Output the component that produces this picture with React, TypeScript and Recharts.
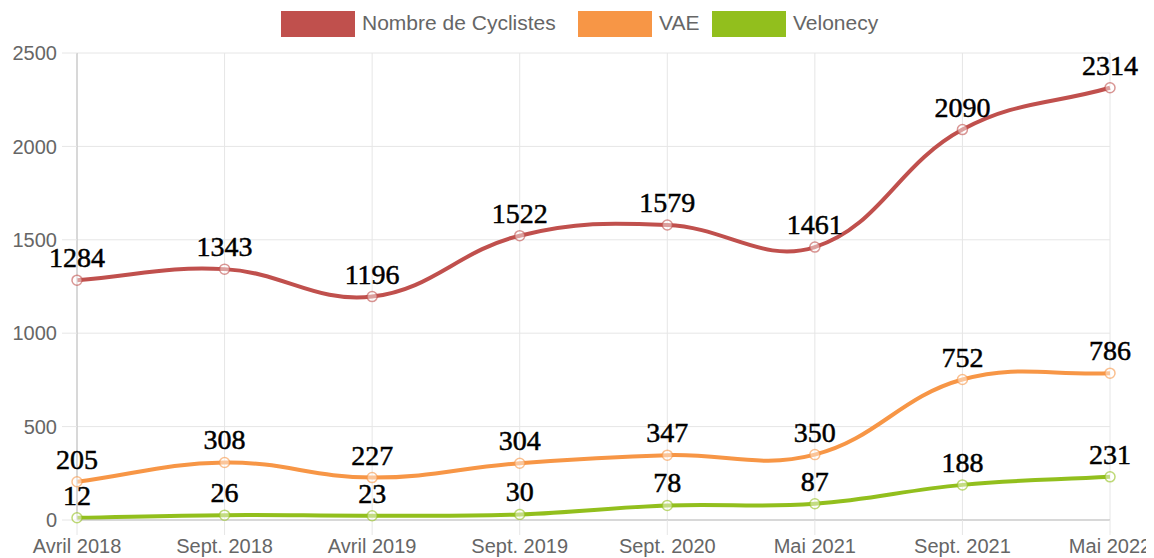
import React from "react";
import {
  LineChart,
  Line,
  XAxis,
  YAxis,
  CartesianGrid,
  LabelList,
} from "recharts";

const months = [
  "Avril 2018",
  "Sept. 2018",
  "Avril 2019",
  "Sept. 2019",
  "Sept. 2020",
  "Mai 2021",
  "Sept. 2021",
  "Mai 2022",
];
const cyclistes = [1284, 1343, 1196, 1522, 1579, 1461, 2090, 2314];
const vae = [205, 308, 227, 304, 347, 350, 752, 786];
const velonecy = [12, 26, 23, 30, 78, 87, 188, 231];
const yTicks = [0, 500, 1000, 1500, 2000, 2500];

const series = [
  { key: "cyclistes", name: "Nombre de Cyclistes", color: "#c0504d" },
  { key: "vae", name: "VAE", color: "#f79646" },
  { key: "velonecy", name: "Velonecy", color: "#92bf1d" },
];

const data = months.map((m, i) => ({
  month: m,
  cyclistes: cyclistes[i],
  vae: vae[i],
  velonecy: velonecy[i],
}));

// spline like the chart.js default (tension 0.4)
function splineCurve(context: any) {
  let pts: [number, number][] = [];
  return {
    areaStart() {},
    areaEnd() {},
    lineStart() {
      pts = [];
    },
    point(x: number, y: number) {
      pts.push([+x, +y]);
    },
    lineEnd() {
      const n = pts.length;
      if (!n) return;
      const t = 0.4;
      const cps = pts.map((p, i) => {
        const prev = pts[i - 1] || p;
        const next = pts[i + 1] || p;
        const d01 = Math.hypot(p[0] - prev[0], p[1] - prev[1]);
        const d12 = Math.hypot(next[0] - p[0], next[1] - p[1]);
        let s01 = d01 / (d01 + d12);
        let s12 = d12 / (d01 + d12);
        if (isNaN(s01)) s01 = 0;
        if (isNaN(s12)) s12 = 0;
        const fa = t * s01;
        const fb = t * s12;
        return {
          px: p[0] - fa * (next[0] - prev[0]),
          py: p[1] - fa * (next[1] - prev[1]),
          nx: p[0] + fb * (next[0] - prev[0]),
          ny: p[1] + fb * (next[1] - prev[1]),
        };
      });
      context.moveTo(pts[0][0], pts[0][1]);
      for (let i = 1; i < n; i++) {
        context.bezierCurveTo(
          cps[i - 1].nx,
          cps[i - 1].ny,
          cps[i].px,
          cps[i].py,
          pts[i][0],
          pts[i][1]
        );
      }
    },
  };
}

const legendPos = [
  { box: 281, text: 362 },
  { box: 578, text: 659 },
  { box: 712, text: 793 },
];

function Legend() {
  return (
    <>
      {series.map((s, i) => (
        <React.Fragment key={s.key}>
          <div
            style={{
              position: "absolute",
              left: legendPos[i].box,
              top: 11,
              width: 74,
              height: 26,
              background: s.color,
            }}
          />
          <div
            style={{
              position: "absolute",
              left: legendPos[i].text,
              top: 10,
              lineHeight: "26px",
              fontSize: 21,
              fontFamily: "Liberation Sans, Arial, sans-serif",
              color: "#666",
              whiteSpace: "nowrap",
            }}
          >
            {s.name}
          </div>
        </React.Fragment>
      ))}
    </>
  );
}

const tickFont = {
  fontSize: 20,
  fontFamily: "Liberation Sans, Arial, sans-serif",
  fill: "#666",
};

export default function App() {
  return (
    <div
      style={{
        position: "relative",
        width: 1154,
        height: 558,
        margin: "-8px 0 0 -8px",
        background: "#fff",
      }}
    >
      <Legend />
      <LineChart
        width={1154}
        height={558}
        data={data}
        margin={{ top: 53, right: 44, bottom: 0, left: 0 }}
      >
        <CartesianGrid stroke="#e6e6e6" strokeWidth={1} />
        <XAxis
          dataKey="month"
          interval={0}
          height={38}
          tickSize={15}
          tickMargin={4}
          tick={tickFont}
          tickLine={{ stroke: "#e6e6e6" }}
          axisLine={{ stroke: "#bdbdbd" }}
          padding={{ left: 0, right: 0 }}
        />
        <YAxis
          width={77}
          domain={[0, 2500]}
          ticks={yTicks}
          interval={0}
          tickSize={15}
          tickMargin={5}
          tick={tickFont}
          tickLine={{ stroke: "#e6e6e6" }}
          axisLine={{ stroke: "#bdbdbd" }}
        />
        {series.map((s) => (
          <Line
            key={s.key}
            dataKey={s.key}
            name={s.name}
            type={splineCurve as any}
            stroke={s.color}
            strokeWidth={4}
            dot={{
              r: 5,
              fill: "#fff",
              fillOpacity: 0.45,
              stroke: s.color,
              strokeOpacity: 0.6,
              strokeWidth: 1.5,
            }}
            activeDot={false}
            isAnimationActive={false}
          >
            <LabelList
              dataKey={s.key}
              position="top"
              offset={13}
              fill="#000"
              stroke="#000"
              strokeWidth={0.5}
              fontSize={28}
              fontFamily="Liberation Serif, Times New Roman, serif"
            />
          </Line>
        ))}
      </LineChart>
    </div>
  );
}
